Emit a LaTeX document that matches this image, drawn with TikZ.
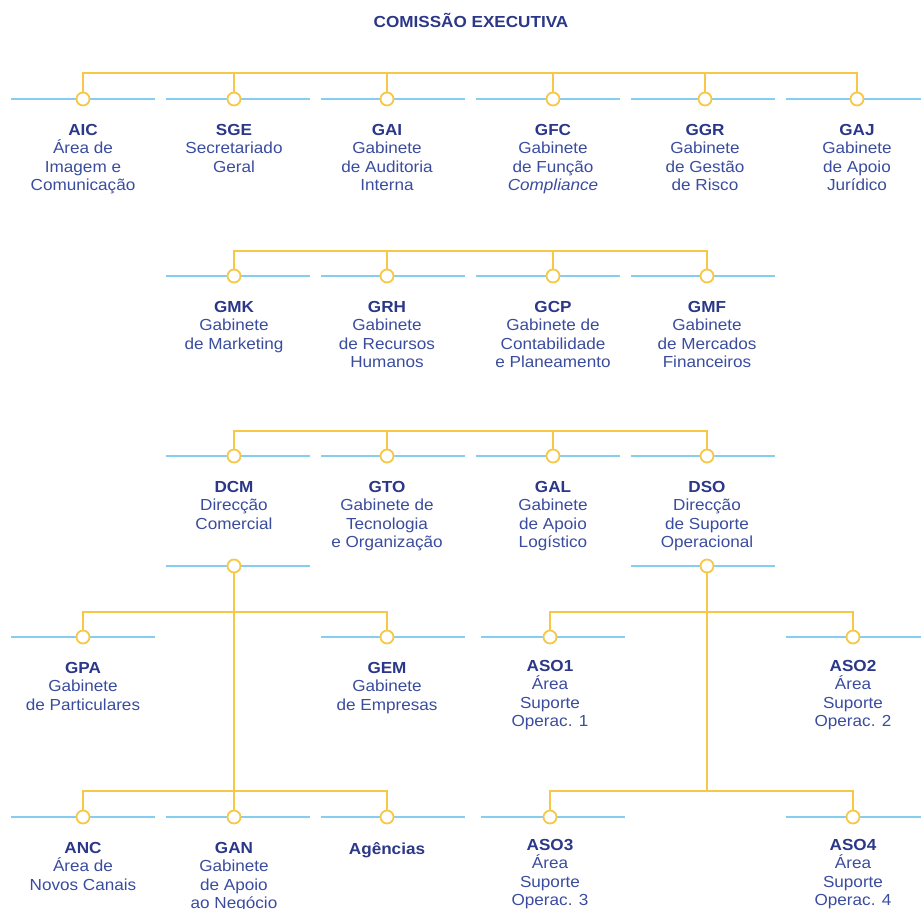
\documentclass[tikz,border=0pt]{standalone}
\usepackage{fontspec}
\setmainfont[FakeStretch=1.07]{Liberation Sans}
\usepackage{xcolor}
\usepackage{tikz}
\usetikzlibrary{positioning}
\definecolor{navy}{HTML}{2B3788}
\definecolor{orgblue}{HTML}{3A4C9E}
\definecolor{skyline}{HTML}{86CDEF}
\definecolor{gold}{HTML}{F7C747}
\newcommand{\unitcode}[1]{{\color{navy}\bfseries #1}}
\tikzset{
    unit/.style={
        circle,
        draw=gold,
        fill=white,
        line width=1.8pt,
        inner sep=0pt,
        minimum size=13pt
    },
    bus/.style={
        draw=gold,
        line width=1.8pt
    }
}
\tikzstyle{rail} = [draw=skyline, line width=2.4pt]
\tikzstyle{desc} = [align=center, inner sep=0pt, text=orgblue, font=\fontsize{16}{18.2}\selectfont]
\tikzstyle{headline} = [text=navy, font=\bfseries\fontsize{16}{19}\selectfont]

\begin{document}
\begin{tikzpicture}[x=1pt,y=-1pt]
          \useasboundingbox (0,0) rectangle (921,909);
          \node (ce) [headline] at (471,20) {COMISSÃO EXECUTIVA};
          \coordinate (bus1) at (0,73);
          \coordinate (bus2) at (0,251);
          \coordinate (bus3) at (0,431);
          \coordinate (bus4) at (0,612);
          \coordinate (bus5) at (0,791);
          \draw [rail] (11,99) -- (155,99);
          \draw [rail] (166,99) -- (310,99);
          \draw [rail] (321,99) -- (465,99);
          \draw [rail] (476,99) -- (620,99);
          \draw [rail] (631,99) -- (775,99);
          \draw [rail] (786,99) -- (921,99);
          \draw [rail] (166,276) -- (310,276);
          \draw [rail] (321,276) -- (465,276);
          \draw [rail] (476,276) -- (620,276);
          \draw [rail] (631,276) -- (775,276);
          \draw [rail] (166,456) -- (310,456);
          \draw [rail] (321,456) -- (465,456);
          \draw [rail] (476,456) -- (620,456);
          \draw [rail] (631,456) -- (775,456);
          \draw [rail] (166,566) -- (310,566);
          \draw [rail] (631,566) -- (775,566);
          \draw [rail] (11,637) -- (155,637);
          \draw [rail] (321,637) -- (465,637);
          \draw [rail] (481,637) -- (625,637);
          \draw [rail] (786,637) -- (921,637);
          \draw [rail] (11,817) -- (155,817);
          \draw [rail] (166,817) -- (310,817);
          \draw [rail] (321,817) -- (465,817);
          \draw [rail] (481,817) -- (625,817);
          \draw [rail] (786,817) -- (921,817);
          \node (aic) [unit] at (83,99) {};
          \node (sge) [unit] at (234,99) {};
          \node (gai) [unit] at (387,99) {};
          \node (gfc) [unit] at (553,99) {};
          \node (ggr) [unit] at (705,99) {};
          \node (gaj) [unit] at (857,99) {};
          \node (gmk) [unit] at (234,276) {};
          \node (grh) [unit] at (387,276) {};
          \node (gcp) [unit] at (553,276) {};
          \node (gmf) [unit] at (707,276) {};
          \node (dcm) [unit] at (234,456) {};
          \node (gto) [unit] at (387,456) {};
          \node (gal) [unit] at (553,456) {};
          \node (dso) [unit] at (707,456) {};
          \node (dcmB) [unit] at (234,566) {};
          \node (dsoB) [unit] at (707,566) {};
          \node (gpa) [unit] at (83,637) {};
          \node (gem) [unit] at (387,637) {};
          \node (aso1) [unit] at (550,637) {};
          \node (aso2) [unit] at (853,637) {};
          \node (anc) [unit] at (83,817) {};
          \node (gan) [unit] at (234,817) {};
          \node (agencias) [unit] at (387,817) {};
          \node (aso3) [unit] at (550,817) {};
          \node (aso4) [unit] at (853,817) {};
          \node (aicL) [desc, below=18pt of aic] {\unitcode{AIC}\\Área de\\Imagem e\\Comunicação};
          \node (sgeL) [desc, below=18pt of sge] {\unitcode{SGE}\\Secretariado\\Geral};
          \node (gaiL) [desc, below=18pt of gai] {\unitcode{GAI}\\Gabinete\\de Auditoria\\Interna};
          \node (gfcL) [desc, below=18pt of gfc] {\unitcode{GFC}\\Gabinete\\de Função\\\textit{Compliance}};
          \node (ggrL) [desc, below=18pt of ggr] {\unitcode{GGR}\\Gabinete\\de Gestão\\de Risco};
          \node (gajL) [desc, below=18pt of gaj] {\unitcode{GAJ}\\Gabinete\\de Apoio\\Jurídico};
          \node (gmkL) [desc, below=18pt of gmk] {\unitcode{GMK}\\Gabinete\\de Marketing};
          \node (grhL) [desc, below=18pt of grh] {\unitcode{GRH}\\Gabinete\\de Recursos\\Humanos};
          \node (gcpL) [desc, below=18pt of gcp] {\unitcode{GCP}\\Gabinete de\\Contabilidade\\e Planeamento};
          \node (gmfL) [desc, below=18pt of gmf] {\unitcode{GMF}\\Gabinete\\de Mercados\\Financeiros};
          \node (dcmL) [desc, below=18pt of dcm] {\unitcode{DCM}\\Direcção\\Comercial};
          \node (gtoL) [desc, below=18pt of gto] {\unitcode{GTO}\\Gabinete de\\Tecnologia\\e Organização};
          \node (galL) [desc, below=18pt of gal] {\unitcode{GAL}\\Gabinete\\de Apoio\\Logístico};
          \node (dsoL) [desc, below=18pt of dso] {\unitcode{DSO}\\Direcção\\de Suporte\\Operacional};
          \node (gpaL) [desc, below=18pt of gpa] {\unitcode{GPA}\\Gabinete\\de Particulares};
          \node (gemL) [desc, below=18pt of gem] {\unitcode{GEM}\\Gabinete\\de Empresas};
          \node (aso1L) [desc, below=16pt of aso1] {\unitcode{ASO1}\\Área\\Suporte\\Operac. 1};
          \node (aso2L) [desc, below=16pt of aso2] {\unitcode{ASO2}\\Área\\Suporte\\Operac. 2};
          \node (ancL) [desc, below=18pt of anc] {\unitcode{ANC}\\Área de\\Novos Canais};
          \node (ganL) [desc, below=18pt of gan] {\unitcode{GAN}\\Gabinete\\de Apoio\\ao Negócio};
          \node (agenciasL) [desc, below=18pt of agencias] {\unitcode{Agências}};
          \node (aso3L) [desc, below=15pt of aso3] {\unitcode{ASO3}\\Área\\Suporte\\Operac. 3};
          \node (aso4L) [desc, below=15pt of aso4] {\unitcode{ASO4}\\Área\\Suporte\\Operac. 4};
          \draw [bus] (aic) -- (aic |- bus1) -- (gaj |- bus1) -- (gaj);
          \draw [bus] (sge) -- (sge |- bus1);
          \draw [bus] (gai) -- (gai |- bus1);
          \draw [bus] (gfc) -- (gfc |- bus1);
          \draw [bus] (ggr) -- (ggr |- bus1);
          \draw [bus] (gmk) -- (gmk |- bus2) -- (gmf |- bus2) -- (gmf);
          \draw [bus] (grh) -- (grh |- bus2);
          \draw [bus] (gcp) -- (gcp |- bus2);
          \draw [bus] (dcm) -- (dcm |- bus3) -- (dso |- bus3) -- (dso);
          \draw [bus] (gto) -- (gto |- bus3);
          \draw [bus] (gal) -- (gal |- bus3);
          \draw [bus] (dcmB) -- (gan);
          \draw [bus] (gpa) -- (gpa |- bus4) -- (gem |- bus4) -- (gem);
          \draw [bus] (anc) -- (anc |- bus5) -- (agencias |- bus5) -- (agencias);
          \draw [bus] (dsoB) -- (dsoB |- bus5);
          \draw [bus] (aso1) -- (aso1 |- bus4) -- (aso2 |- bus4) -- (aso2);
          \draw [bus] (aso3) -- (aso3 |- bus5) -- (aso4 |- bus5) -- (aso4);
        \end{tikzpicture}
\end{document}
